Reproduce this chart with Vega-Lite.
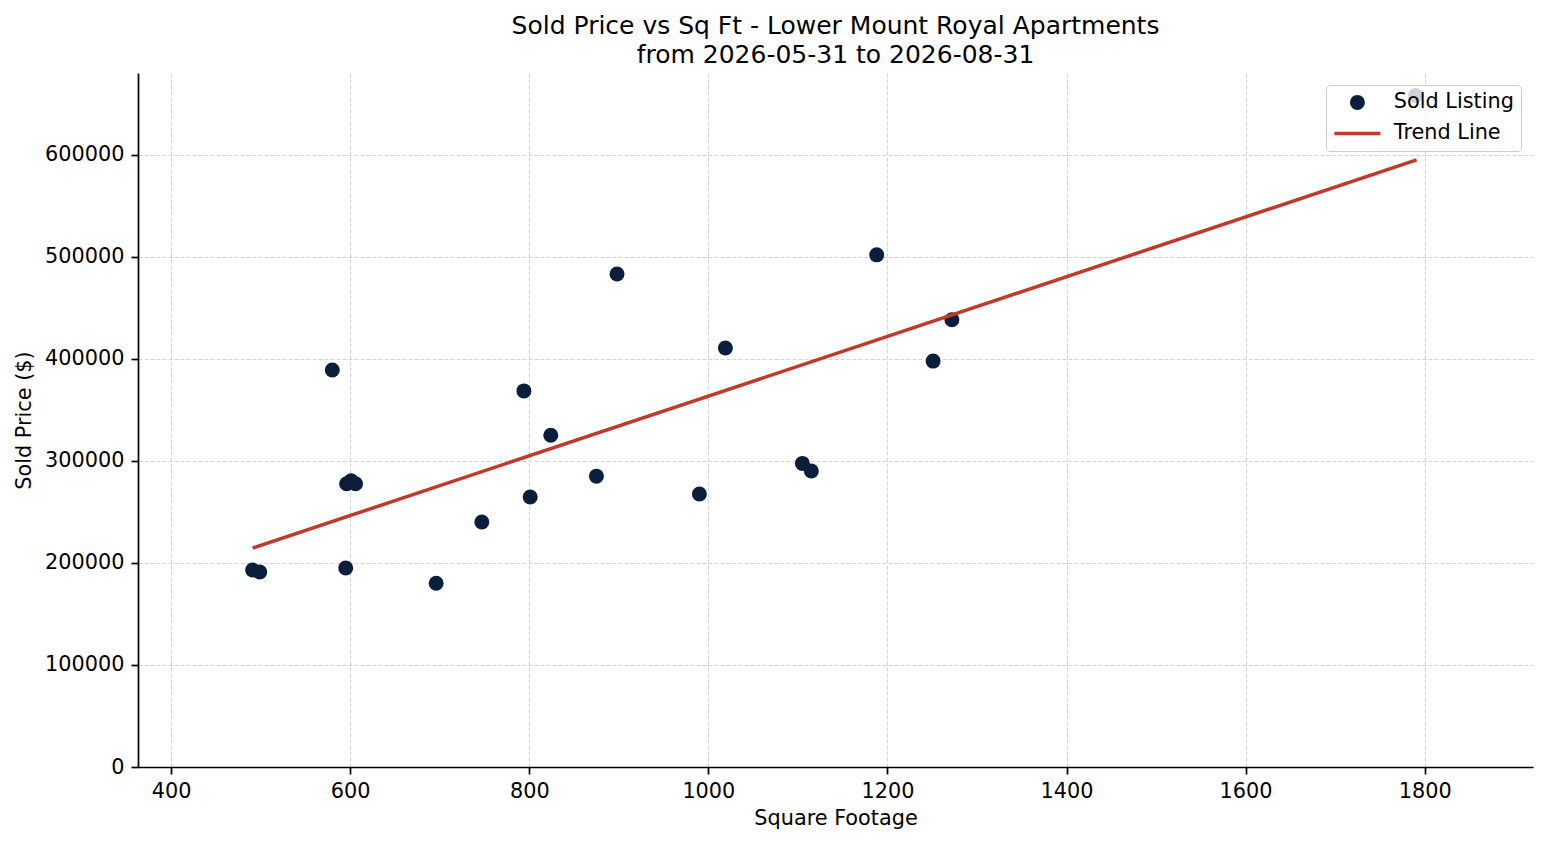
{
  "$schema": "https://vega.github.io/schema/vega-lite/v6.json",
  "width": 1395,
  "height": 694,
  "autosize": {"type": "none"},
  "padding": {"left": 138, "top": 73, "right": 14, "bottom": 78},
  "background": "white",
  "title": {
    "text": ["Sold Price vs Sq Ft - Lower Mount Royal Apartments", "from 2026-05-31 to 2026-08-31"],
    "fontSize": 25,
    "fontWeight": "normal",
    "lineHeight": 29,
    "anchor": "middle",
    "frame": "group",
    "offset": 5,
    "color": "black"
  },
  "datasets": {
    "sales": [
      {"sqft": 491, "price": 193000},
      {"sqft": 499, "price": 191000},
      {"sqft": 580, "price": 389000},
      {"sqft": 595, "price": 195000},
      {"sqft": 596, "price": 277500},
      {"sqft": 601, "price": 280500},
      {"sqft": 606, "price": 277500},
      {"sqft": 696, "price": 180000},
      {"sqft": 747, "price": 240000},
      {"sqft": 794, "price": 368500},
      {"sqft": 801, "price": 264500},
      {"sqft": 824, "price": 325000},
      {"sqft": 875, "price": 285000},
      {"sqft": 898, "price": 483000},
      {"sqft": 990, "price": 267500},
      {"sqft": 1019, "price": 410500},
      {"sqft": 1105, "price": 297500},
      {"sqft": 1115, "price": 290000},
      {"sqft": 1188, "price": 501800},
      {"sqft": 1251, "price": 397700},
      {"sqft": 1272, "price": 438200},
      {"sqft": 1790, "price": 658000}
    ],
    "trend": [
      {"sqft": 491, "price": 214500},
      {"sqft": 1791, "price": 594800}
    ]
  },
  "encoding": {
    "x": {
      "field": "sqft",
      "type": "quantitative",
      "title": "Square Footage",
      "scale": {"domain": [363, 1921], "nice": false, "zero": false},
      "axis": {"values": [400, 600, 800, 1000, 1200, 1400, 1600, 1800], "format": "d", "titlePadding": 8}
    },
    "y": {
      "field": "price",
      "type": "quantitative",
      "title": "Sold Price ($)",
      "scale": {"domain": [0, 680000], "nice": false},
      "axis": {"values": [0, 100000, 200000, 300000, 400000, 500000, 600000], "format": "d", "titlePadding": 10}
    }
  },
  "layer": [
    {
      "data": {"name": "sales"},
      "mark": {"type": "point", "filled": true, "size": 225, "opacity": 1},
      "encoding": {
        "color": {
          "datum": "Sold Listing",
          "scale": {"domain": ["Sold Listing", "Trend Line"], "range": ["#0b1f3d", "#c0392b"]},
          "legend": {
            "title": null,
            "orient": "top-right",
            "offset": 12,
            "padding": 7,
            "rowPadding": 9,
            "symbolSize": 225,
            "symbolOffset": 14,
            "labelOffset": 26,
            "labelFontSize": 20.8,
            "labelColor": "black",
            "fillColor": "rgba(255,255,255,0.8)",
            "strokeColor": "#cccccc",
            "cornerRadius": 4,
            "encode": {
              "symbols": {
                "update": {
                  "shape": {"signal": "datum.value === 'Trend Line' ? 'M-3.07,0L3.07,0' : 'circle'"},
                  "fill": {"signal": "datum.value === 'Trend Line' ? 'transparent' : '#0b1f3d'"},
                  "stroke": {"signal": "datum.value === 'Trend Line' ? '#c0392b' : 'transparent'"},
                  "strokeWidth": {"signal": "datum.value === 'Trend Line' ? 3.5 : 0"},
                  "opacity": {"value": 1}
                }
              }
            }
          }
        }
      }
    },
    {
      "data": {"name": "trend"},
      "mark": {"type": "line", "strokeWidth": 3.5},
      "encoding": {
        "color": {
          "datum": "Trend Line",
          "legend": {
            "title": null,
            "orient": "top-right",
            "offset": 12,
            "padding": 7,
            "rowPadding": 9,
            "symbolSize": 225,
            "symbolOffset": 14,
            "labelOffset": 26,
            "labelFontSize": 20.8,
            "labelColor": "black",
            "fillColor": "rgba(255,255,255,0.8)",
            "strokeColor": "#cccccc",
            "cornerRadius": 4,
            "encode": {
              "symbols": {
                "update": {
                  "shape": {"signal": "datum.value === 'Trend Line' ? 'M-3.07,0L3.07,0' : 'circle'"},
                  "fill": {"signal": "datum.value === 'Trend Line' ? 'transparent' : '#0b1f3d'"},
                  "stroke": {"signal": "datum.value === 'Trend Line' ? '#c0392b' : 'transparent'"},
                  "strokeWidth": {"signal": "datum.value === 'Trend Line' ? 3.5 : 0"},
                  "opacity": {"value": 1}
                }
              }
            }
          }
        }
      }
    }
  ],
  "config": {
    "font": "DejaVu Sans",
    "view": {"stroke": null},
    "axis": {
      "labelFontSize": 20.8,
      "titleFontSize": 20.8,
      "titleFontWeight": "normal",
      "labelColor": "black",
      "titleColor": "black",
      "domainColor": "black",
      "domainWidth": 1.7,
      "tickColor": "black",
      "tickWidth": 1.7,
      "tickSize": 7,
      "labelPadding": 7,
      "labelFlush": false,
      "labelOverlap": false,
      "grid": true,
      "gridColor": "#d3d3d3",
      "gridWidth": 1,
      "gridDash": [4, 2]
    }
  }
}
